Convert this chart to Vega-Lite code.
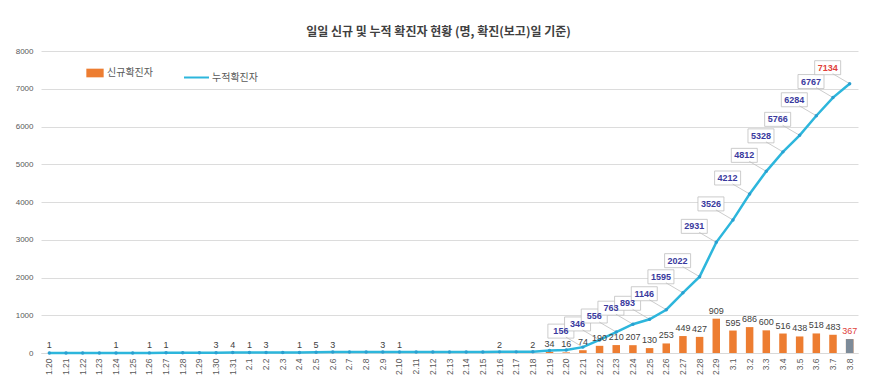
{
  "$schema": "https://vega.github.io/schema/vega-lite/v6.json",
  "width": 817,
  "height": 302,
  "autosize": {"type": "none"},
  "padding": {"left": 41, "top": 51, "right": 31, "bottom": 32},
  "background": "white",
  "config": {
    "view": {"stroke": null},
    "font": "Noto Sans CJK KR"
  },
  "title": {
    "text": "일일 신규 및 누적 확진자 현황 (명, 확진(보고)일 기준)",
    "fontSize": 12,
    "fontWeight": "bold",
    "color": "#404040",
    "anchor": "middle",
    "dx": -11,
    "offset": 8,
    "font": "Noto Sans CJK KR"
  },
  "data": {
    "values": [
      {"d": "1.20", "n": 1, "c": 1},
      {"d": "1.21", "n": 0, "c": 1},
      {"d": "1.22", "n": 0, "c": 1},
      {"d": "1.23", "n": 0, "c": 1},
      {"d": "1.24", "n": 1, "c": 2},
      {"d": "1.25", "n": 0, "c": 2},
      {"d": "1.26", "n": 1, "c": 3},
      {"d": "1.27", "n": 1, "c": 4},
      {"d": "1.28", "n": 0, "c": 4},
      {"d": "1.29", "n": 0, "c": 4},
      {"d": "1.30", "n": 3, "c": 7},
      {"d": "1.31", "n": 4, "c": 11},
      {"d": "2.1", "n": 1, "c": 12},
      {"d": "2.2", "n": 3, "c": 15},
      {"d": "2.3", "n": 0, "c": 15},
      {"d": "2.4", "n": 1, "c": 16},
      {"d": "2.5", "n": 5, "c": 21},
      {"d": "2.6", "n": 3, "c": 24},
      {"d": "2.7", "n": 0, "c": 24},
      {"d": "2.8", "n": 0, "c": 24},
      {"d": "2.9", "n": 3, "c": 27},
      {"d": "2.10", "n": 1, "c": 28},
      {"d": "2.11", "n": 0, "c": 28},
      {"d": "2.12", "n": 0, "c": 28},
      {"d": "2.13", "n": 0, "c": 28},
      {"d": "2.14", "n": 0, "c": 28},
      {"d": "2.15", "n": 0, "c": 28},
      {"d": "2.16", "n": 2, "c": 30},
      {"d": "2.17", "n": 0, "c": 30},
      {"d": "2.18", "n": 2, "c": 32},
      {"d": "2.19", "n": 34, "c": 66},
      {"d": "2.20", "n": 16, "c": 82},
      {"d": "2.21", "n": 74, "c": 156},
      {"d": "2.22", "n": 190, "c": 346},
      {"d": "2.23", "n": 210, "c": 556},
      {"d": "2.24", "n": 207, "c": 763},
      {"d": "2.25", "n": 130, "c": 893},
      {"d": "2.26", "n": 253, "c": 1146},
      {"d": "2.27", "n": 449, "c": 1595},
      {"d": "2.28", "n": 427, "c": 2022},
      {"d": "2.29", "n": 909, "c": 2931},
      {"d": "3.1", "n": 595, "c": 3526},
      {"d": "3.2", "n": 686, "c": 4212},
      {"d": "3.3", "n": 600, "c": 4812},
      {"d": "3.4", "n": 516, "c": 5328},
      {"d": "3.5", "n": 438, "c": 5766},
      {"d": "3.6", "n": 518, "c": 6284},
      {"d": "3.7", "n": 483, "c": 6767},
      {"d": "3.8", "n": 367, "c": 7134}
    ]
  },
  "transform": [{"fold": ["n", "c"], "as": ["k", "v"]}],
  "encoding": {
    "x": {
      "field": "d",
      "type": "nominal",
      "sort": null,
      "scale": {"paddingInner": 0.55, "paddingOuter": 0.275},
      "axis": {
        "title": null,
        "labelAngle": -90,
        "labelFontSize": 8.5,
        "labelColor": "#595959",
        "labelFont": "Liberation Sans",
        "ticks": false,
        "domain": true,
        "domainColor": "#d9d9d9",
        "labelPadding": 5,
        "labelOverlap": false
      }
    },
    "y": {
      "field": "v",
      "type": "quantitative",
      "scale": {"domain": [0, 8000]},
      "axis": {
        "title": null,
        "values": [0, 1000, 2000, 3000, 4000, 5000, 6000, 7000, 8000],
        "format": "d",
        "labelOverlap": false,
        "labelFontSize": 8,
        "labelColor": "#595959",
        "labelFont": "Liberation Sans",
        "ticks": false,
        "domain": false,
        "grid": true,
        "gridColor": "#dcdcdc",
        "labelPadding": 8
      }
    }
  },
  "layer": [
    {
      "transform": [{"filter": "datum.k == 'n'"}],
      "mark": {"type": "bar"},
      "encoding": {
        "fill": {
          "datum": "신규확진자",
          "scale": {"range": ["#ED7D31"]},
          "legend": {
            "title": null,
            "orient": "none",
            "legendX": 45,
            "legendY": 13,
            "symbolType": "M-1,-0.5H1V0.5H-1Z",
            "symbolSize": 300,
            "symbolStrokeWidth": 0,
            "labelFontSize": 10,
            "labelColor": "#595959",
            "labelOffset": 3
          }
        }
      }
    },
    {
      "transform": [{"filter": "datum.k == 'n' && datum.d == '3.8'"}],
      "mark": {"type": "bar", "color": "#7d8b99"}
    },
    {
      "transform": [{"filter": "datum.k == 'c' && datum.v >= 150"}],
      "mark": {
        "type": "point",
        "shape": "M0,0L-17,-10M-35,-23H-9V-9H-35Z",
        "size": 4,
        "filled": true,
        "fill": "white",
        "stroke": "#bfbfbf",
        "strokeWidth": 0.8,
        "opacity": 1
      }
    },
    {
      "transform": [{"filter": "datum.k == 'c'"}],
      "mark": {"type": "line", "strokeWidth": 2.5},
      "encoding": {
        "stroke": {
          "datum": "누적확진자",
          "scale": {"range": ["#2DB6DC"]},
          "legend": {
            "title": null,
            "orient": "none",
            "legendX": 142,
            "legendY": 13,
            "symbolType": "stroke",
            "symbolSize": 625,
            "symbolStrokeWidth": 2,
            "labelFontSize": 10,
            "labelColor": "#595959",
            "labelOffset": 2
          }
        }
      }
    },
    {
      "transform": [{"filter": "datum.k == 'c'"}],
      "mark": {"type": "point", "filled": true, "size": 12, "color": "#2A9FD0", "opacity": 1}
    },
    {
      "transform": [{"filter": "datum.k == 'n' && datum.v > 0"}],
      "mark": {"type": "text", "baseline": "bottom", "dy": -3, "fontSize": 9, "font": "Liberation Sans"},
      "encoding": {
        "text": {"field": "v", "type": "quantitative"},
        "color": {"condition": {"test": "datum.d == '3.8'", "value": "#E0403A"}, "value": "#404040"}
      }
    },
    {
      "transform": [{"filter": "datum.k == 'c' && datum.v >= 150"}],
      "mark": {"type": "text", "baseline": "middle", "align": "center", "dx": -22, "dy": -16, "fontSize": 9, "fontWeight": "bold", "font": "Liberation Sans"},
      "encoding": {
        "text": {"field": "v", "type": "quantitative"},
        "color": {"condition": {"test": "datum.d == '3.8'", "value": "#E0403A"}, "value": "#3A3A9E"}
      }
    }
  ]
}
